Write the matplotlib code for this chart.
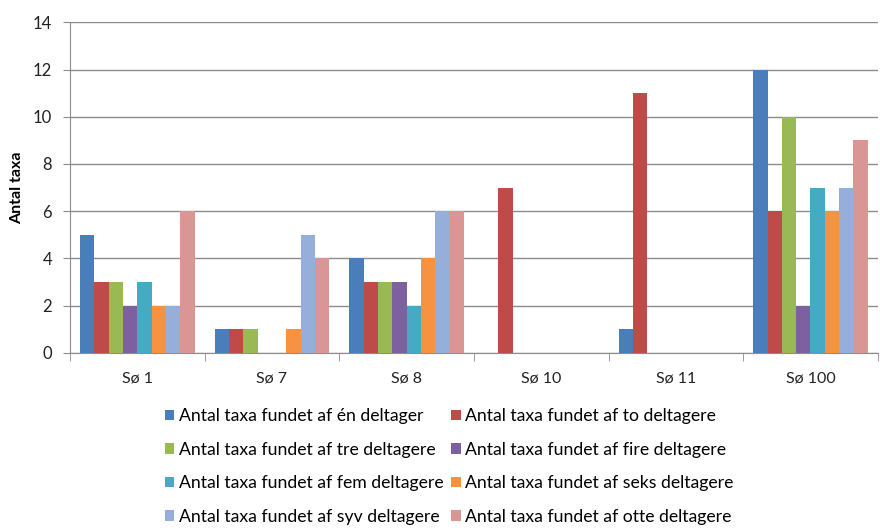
import matplotlib
matplotlib.use("Agg")
import matplotlib.pyplot as plt
import numpy as np

plt.rcParams['font.family'] = ['Lato', 'DejaVu Sans']

categories = ["Sø 1", "Sø 7", "Sø 8", "Sø 10", "Sø 11", "Sø 100"]
series_names = [
    "Antal taxa fundet af én deltager",
    "Antal taxa fundet af to deltagere",
    "Antal taxa fundet af tre deltagere",
    "Antal taxa fundet af fire deltagere",
    "Antal taxa fundet af fem deltagere",
    "Antal taxa fundet af seks deltagere",
    "Antal taxa fundet af syv deltagere",
    "Antal taxa fundet af otte deltagere",
]
en = [5, 1, 4, 0, 1, 12]
to = [3, 1, 3, 7, 11, 6]
tre = [3, 1, 3, 0, 0, 10]
fire = [2, 0, 3, 0, 0, 2]
fem = [3, 0, 2, 0, 0, 7]
seks = [2, 1, 4, 0, 0, 6]
syv = [2, 5, 6, 0, 0, 7]
otte = [6, 4, 6, 0, 0, 9]
values = [en, to, tre, fire, fem, seks, syv, otte]
colors = ["#4A7EBB", "#BE4B48", "#98B954", "#7D60A0", "#46AAC5", "#F69240", "#95AEDA", "#D99694"]

fig = plt.figure(figsize=(8.8, 5.3), dpi=100)
ax = fig.add_axes([0.0795, 0.334, 0.918, 0.624])

n = len(values)
bw = 0.85 / n
x = np.arange(len(categories))
handles = []
for i, (vals, c, name) in enumerate(zip(values, colors, series_names)):
    b = ax.bar(x - 0.425 + bw * (i + 0.5), vals, width=bw, color=c, label=name, zorder=3)
    handles.append(b)

ax.set_xlim(-0.5, len(categories) - 0.5)
ax.set_ylim(0, 14)
ax.set_yticks(range(0, 15, 2))
ax.yaxis.grid(True, color="#8C8C8C", linewidth=1.0, zorder=0)
ax.set_axisbelow(True)
for s in ["top", "right"]:
    ax.spines[s].set_visible(False)
ax.spines["left"].set_color("#8C8C8C")
ax.spines["bottom"].set_color("#8C8C8C")
ax.set_xticks(x)
ax.set_xticklabels(categories, fontsize=11.5, color="#222222")
ax.tick_params(axis="x", length=0, pad=13)
ax.set_xticks(np.arange(-0.5, len(categories) + 0.5, 1), minor=True)
ax.tick_params(axis="x", which="minor", length=6, color="#8C8C8C")
ax.tick_params(axis="y", length=5, color="#8C8C8C", labelsize=12, labelcolor="#222222", pad=8)
ax.set_ylabel("Antal taxa", fontsize=11.5, fontweight="bold", labelpad=6)

order = [0, 2, 4, 6, 1, 3, 5, 7]
fig.legend([handles[i] for i in order], [series_names[i] for i in order],
           ncol=2, loc="upper left", bbox_to_anchor=(0.187, 0.23),
           frameon=False, fontsize=12.7, handlelength=0.55, handleheight=0.55,
           handletextpad=0.25, columnspacing=0.45, labelspacing=1.0, borderaxespad=0, borderpad=0)

fig.savefig("out.png", dpi=100)
